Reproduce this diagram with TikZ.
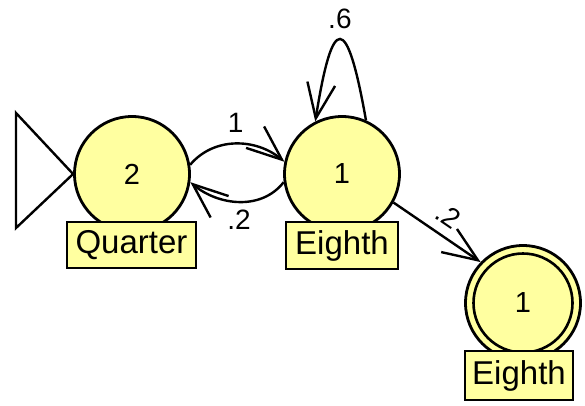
\documentclass[tikz,border=0pt]{standalone}
\usepackage{fontspec}
\setmainfont{Liberation Sans}
\usetikzlibrary{arrows.meta}
\definecolor{statefill}{RGB}{255,255,160}

\begin{document}
\begin{tikzpicture}[x=1pt, y=1pt,
		state/.style={circle, draw, fill=statefill, line width=2.8pt, minimum size=115pt, inner sep=0pt, font=\fontsize{29}{32}\selectfont},
		tag/.style={rectangle, draw, fill=statefill, line width=2.4pt, inner sep=0pt, font=\fontsize{33}{36}\selectfont},
		edge/.style={line width=2.4pt, -{Straight Barb[length=35pt,width=28pt]}},
		weight/.style={font=\fontsize{28}{30}\selectfont, inner sep=1pt}]
			%%%%% START %%%%%
			\useasboundingbox (0, 0) rectangle (585, 405);
			
			\node[state] (q2) at (132, 231) {2};
			\node[state] (q1) at (342, 231) {1};
			\node[state] (qf) at (523, 102) {1};
			\draw[line width=2.6pt] (qf.center) circle (49.5);
			
			\node[tag, minimum width=129pt, minimum height=46pt] (t2) at (131.5, 160) {Quarter};
			\node[tag, minimum width=112pt, minimum height=47pt] (t1) at (342, 159.5) {Eighth};
			\node[tag, minimum width=108pt, minimum height=49pt] (tf) at (519, 29.5) {Eighth};
			
			% start marker
			\draw[line width=2.4pt, line join=miter] (q2.west) -- (16, 292) -- (16, 177) -- cycle;
			
			\draw[edge] (q2.9) to[out=50, in=140] node[weight, above=9pt] {1} (q1.168);
			\draw[edge] (q1.-172) to[out=-128, in=-40] node[weight, below=6pt] {.2} (q2.-8);
			\draw[edge] (q1.66) .. controls +(100:110) and +(81:110) .. node[weight, above=9pt] {.6} (q1.117);
			\draw[edge] (q1.-29) -- node[weight, sloped, above=8pt] {.2} (qf.136);
			%%%%% END %%%%%
		\end{tikzpicture}
\end{document}
